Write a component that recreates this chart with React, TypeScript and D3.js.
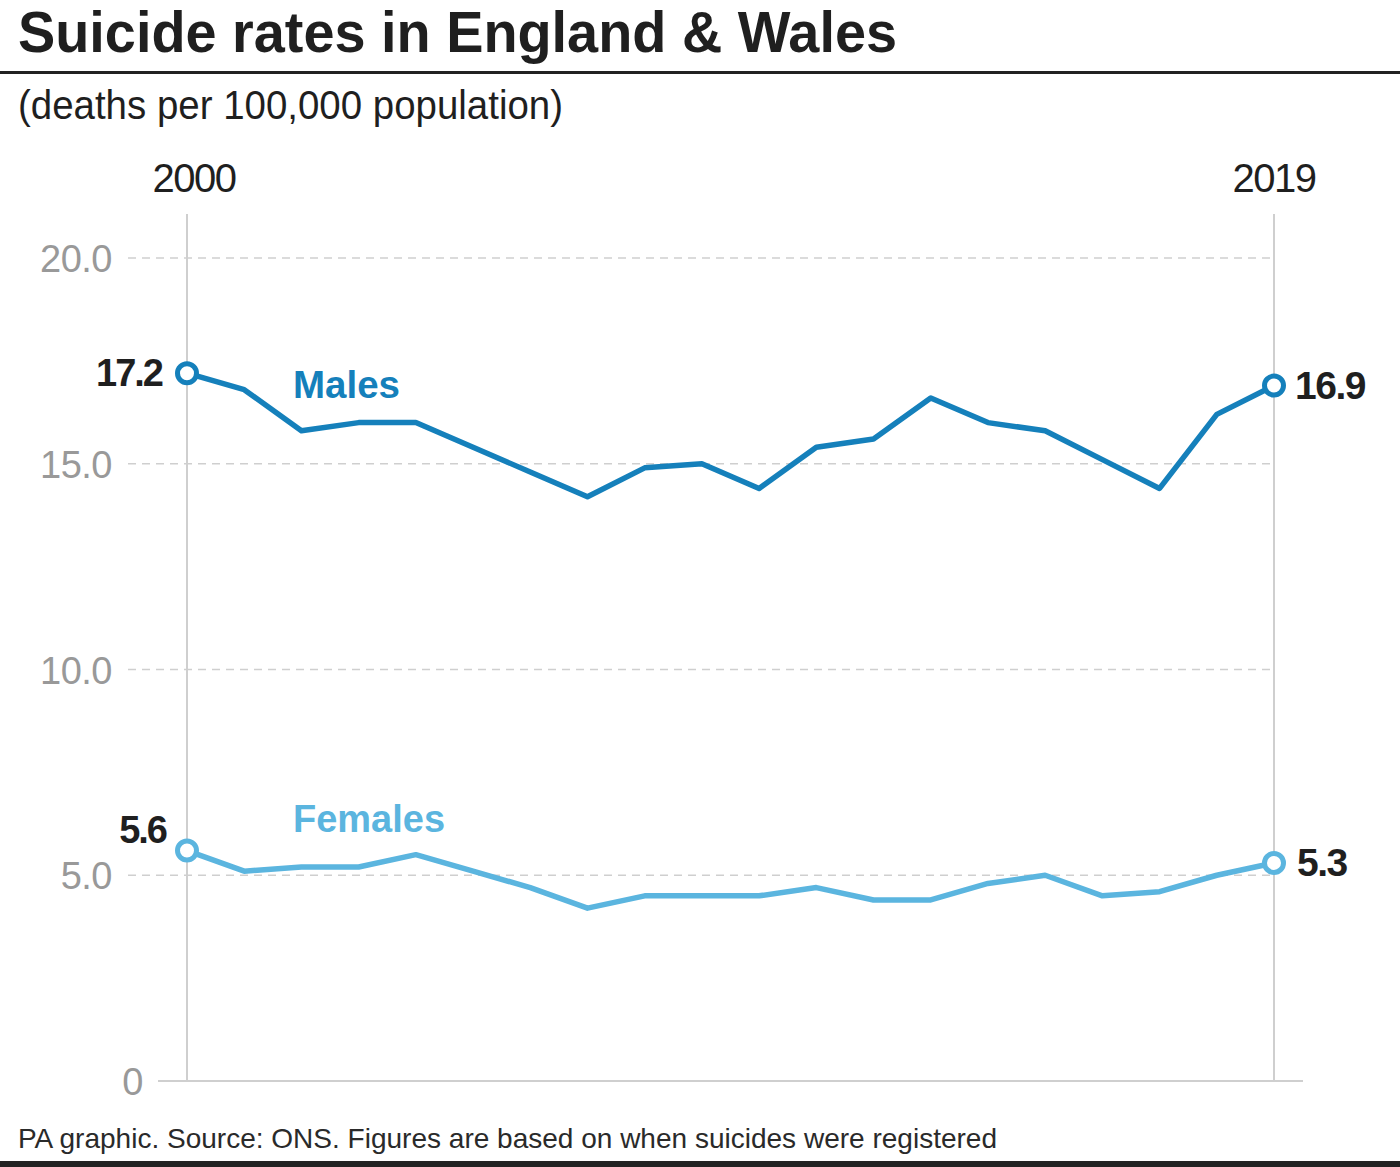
import React from "react";
import * as d3 from "d3";

const years = d3.range(2000, 2020);
const males = [17.2, 16.8, 15.8, 16.0, 16.0, 15.4, 14.8, 14.2, 14.9, 15.0, 14.4, 15.4, 15.6, 16.6, 16.0, 15.8, 15.1, 14.4, 16.2, 16.9];
const females = [5.6, 5.1, 5.2, 5.2, 5.5, 5.1, 4.7, 4.2, 4.5, 4.5, 4.5, 4.7, 4.4, 4.4, 4.8, 5.0, 4.5, 4.6, 5.0, 5.3];
const yTicks = [0, 5, 10, 15, 20];
const yTickLabels = ["0", "5.0", "10.0", "15.0", "20.0"];
const endYearLabels = ["2000", "2019"];
const maleStart = "17.2";
const maleEnd = "16.9";
const femaleStart = "5.6";
const femaleEnd = "5.3";

const W = 1400;
const H = 1167;
const FONT = "'Liberation Sans', Arial, Helvetica, sans-serif";
const MALE_COLOR = "#1580bb";
const FEMALE_COLOR = "#5bb5df";
const GRID = "#cfcfcf";

export default function App() {
  const x = d3.scaleLinear().domain([2000, 2019]).range([187, 1274]);
  const y = d3.scaleLinear().domain([0, 20]).range([1081, 258]);
  const line = d3
    .line<number>()
    .x((_, i) => x(years[i]))
    .y((d) => y(d));

  const first = 0;
  const last = years.length - 1;

  return (
    <svg
      width={W}
      height={H}
      style={{ position: "absolute", left: 0, top: 0, display: "block", background: "#fff" }}
      fontFamily={FONT}
    >
      <rect x={0} y={0} width={W} height={H} fill="#fff" />
      {/* Title */}
      <text x={18} y={52} fontSize={57} fontWeight={700} fill="#1f1f1f" textLength={879} lengthAdjust="spacingAndGlyphs">
        Suicide rates in England &amp; Wales
      </text>
      <line x1={0} x2={W} y1={72.5} y2={72.5} stroke="#222" strokeWidth={3} />
      <text x={18} y={119} fontSize={40} fill="#1f1f1f" textLength={545} lengthAdjust="spacingAndGlyphs">
        (deaths per 100,000 population)
      </text>

      {/* Year labels */}
      <text x={x(2000) + 7} y={192} fontSize={40} fill="#1f1f1f" textAnchor="middle" letterSpacing={-1.5}>
        {endYearLabels[0]}
      </text>
      <text x={x(2019)} y={192} fontSize={40} fill="#1f1f1f" textAnchor="middle" letterSpacing={-1.5}>
        {endYearLabels[1]}
      </text>

      {/* Grid */}
      {yTicks.map((t, i) => (
        <g key={t}>
          {t !== 0 && (
            <line x1={128} x2={1272} y1={y(t)} y2={y(t)} stroke={GRID} strokeWidth={1.5} strokeDasharray="8,6" />
          )}
          <text
            x={t === 0 ? 143 : 112}
            y={y(t) + 14}
            fontSize={38}
            fill="#999"
            textAnchor="end"
            letterSpacing={-0.5}
          >
            {yTickLabels[i]}
          </text>
        </g>
      ))}
      <line x1={x(2000)} x2={x(2000)} y1={214} y2={y(0)} stroke={GRID} strokeWidth={2} />
      <line x1={x(2019)} x2={x(2019)} y1={214} y2={y(0)} stroke={GRID} strokeWidth={2} />
      <line x1={158} x2={1303} y1={y(0)} y2={y(0)} stroke={GRID} strokeWidth={2} />

      {/* Lines */}
      <path d={line(males) || ""} fill="none" stroke={MALE_COLOR} strokeWidth={5.5} strokeLinejoin="round" />
      <path d={line(females) || ""} fill="none" stroke={FEMALE_COLOR} strokeWidth={5.5} strokeLinejoin="round" />

      {/* End markers */}
      {[first, last].map((i) => (
        <g key={i}>
          <circle cx={x(years[i])} cy={y(males[i])} r={9.5} fill="#fff" stroke={MALE_COLOR} strokeWidth={5} />
          <circle cx={x(years[i])} cy={y(females[i])} r={9.5} fill="#fff" stroke={FEMALE_COLOR} strokeWidth={5} />
        </g>
      ))}

      {/* Value labels */}
      <text x={162} y={y(males[first]) + 13} fontSize={38} fontWeight={700} fill="#1f1f1f" textAnchor="end" letterSpacing={-2}>
        {maleStart}
      </text>
      <text x={1295} y={y(males[last]) + 13} fontSize={39} fontWeight={700} fill="#1f1f1f" textAnchor="start" letterSpacing={-1.5}>
        {maleEnd}
      </text>
      <text x={166} y={y(females[first]) - 8} fontSize={38} fontWeight={700} fill="#1f1f1f" textAnchor="end" letterSpacing={-2}>
        {femaleStart}
      </text>
      <text x={1297} y={y(females[last]) + 13} fontSize={39} fontWeight={700} fill="#1f1f1f" textAnchor="start" letterSpacing={-1.5}>
        {femaleEnd}
      </text>

      {/* Series labels */}
      <text x={293} y={398} fontSize={38} fontWeight={700} fill={MALE_COLOR} textLength={107} lengthAdjust="spacingAndGlyphs">
        Males
      </text>
      <text x={293} y={832} fontSize={38} fontWeight={700} fill={FEMALE_COLOR} textLength={152} lengthAdjust="spacingAndGlyphs">
        Females
      </text>

      {/* Footer */}
      <text x={18} y={1148} fontSize={28} fill="#2a2a2a" textLength={979} lengthAdjust="spacingAndGlyphs">
        PA graphic. Source: ONS. Figures are based on when suicides were registered
      </text>
      <rect x={0} y={1161} width={W} height={6} fill="#222" />
    </svg>
  );
}
